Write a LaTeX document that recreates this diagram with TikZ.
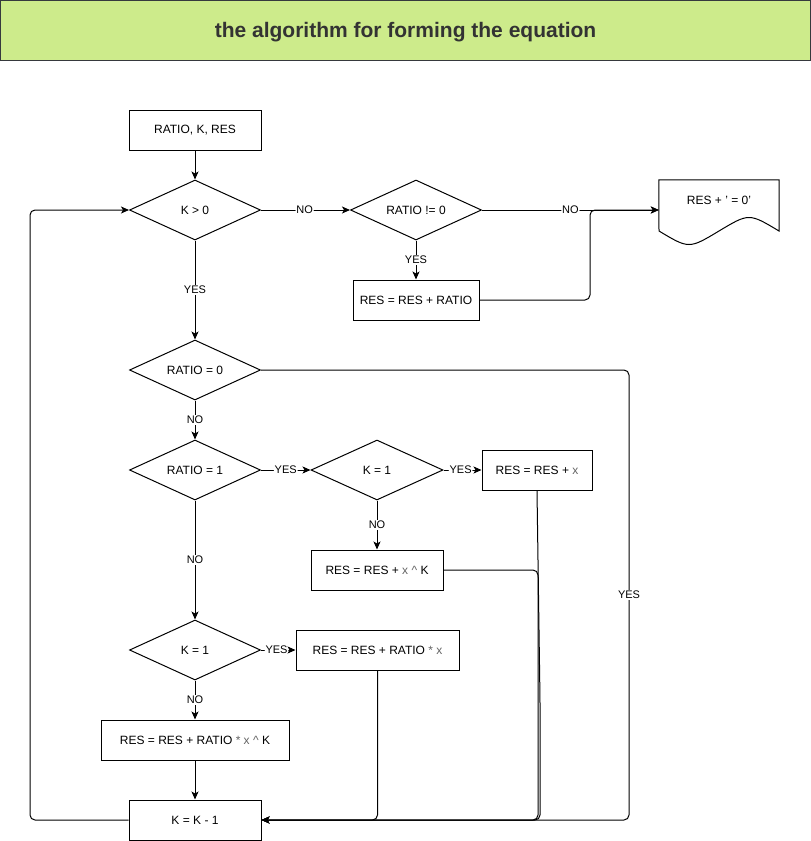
\documentclass[tikz,border=0pt]{standalone}
\usepackage{fontspec}
\setmainfont{Liberation Sans}
\usetikzlibrary{shapes.geometric,arrows.meta}
\definecolor{titlefill}{RGB}{205,235,139}
\definecolor{titledraw}{RGB}{54,57,61}
\definecolor{titletext}{RGB}{51,51,51}
\definecolor{xgray}{RGB}{100,100,100}
\newcommand{\xv}{\textcolor{xgray}{x}}
\begin{document}
\begin{tikzpicture}[x=1pt,y=-1pt,
  every node/.style={font=\fontsize{12}{14}\selectfont},
  procbox/.style={draw,line width=1pt,rectangle,inner sep=0pt,minimum height=40pt},
  decision/.style={draw,line width=1pt,diamond,inner sep=0pt,minimum width=131pt,minimum height=60pt,aspect=2.18},
  conn/.style={line width=1pt,-{Stealth[length=8pt,width=7pt,inset=2pt]},rounded corners=5pt},
  elabel/.style={fill=white,inner sep=1pt,font=\fontsize{11}{13}\selectfont}
]
\useasboundingbox (0,0) rectangle (811,841);
% title
\node[draw=titledraw,fill=titlefill,line width=1pt,minimum width=810pt,minimum height=60pt,inner sep=0pt] (title) at (405,30) {};
\node[text=titletext,font=\fontsize{21}{24}\selectfont\bfseries] (titletext) at (405.5,32) {the algorithm for forming the equation};

% nodes
\node[procbox,minimum width=132pt] (start) at (195,130) {RATIO, K, RES};
\node[decision] (k0) at (195,210) {K \textgreater{} 0};
\node[decision] (rn0) at (416,210) {RATIO != 0};
\node[procbox,minimum width=126pt] (res1) at (416,300) {RES = RES + RATIO};
% document shape
\node[minimum width=120pt,minimum height=60pt,inner sep=0pt] (doc) at (719,210) {};
\draw[line width=1pt] (doc.north west) -- (doc.north east) -- (779,231)
  .. controls (749,213) .. (719,231) .. controls (689,249) .. (659,231) -- cycle;
\node (doctext) at (719,200.5) {RES + ' = 0'};

\node[decision] (rz) at (195,370) {RATIO = 0};
\node[decision] (r1) at (195,470) {RATIO = 1};
\node[decision,minimum width=132pt] (ka) at (377,470) {K = 1};
\node[procbox,minimum width=110pt] (rx) at (537,470) {RES = RES + \xv};
\node[procbox,minimum width=132pt] (rxk) at (377,570) {RES = RES + \textcolor{xgray}{x \^{}} K};
\node[decision] (kb) at (195,650) {K = 1};
\node[procbox,minimum width=163pt] (rrx) at (377.5,650) {RES = RES + RATIO \textcolor{xgray}{* x}};
\node[procbox,minimum width=188pt] (rrxk) at (195,740) {RES = RES + RATIO \textcolor{xgray}{* x \^{}} K};
\node[procbox,minimum width=132pt] (kk) at (195,820) {K = K - 1};

% helper coordinates
\coordinate (m1) at (590,255);
\coordinate (c629) at (629,600);
\coordinate (c540) at (540,700);
\coordinate (c538) at (538,700);
\coordinate (c30) at (30,500);

% connectors
\draw[conn] (start) -- (k0);
\draw[conn] (k0) -- node[elabel,pos=0.49]{NO} (rn0);
\draw[conn] (rn0) -- node[elabel,pos=0.5]{NO} (doc.west);
\draw[conn] (rn0) -- node[elabel,pos=0.5]{YES} (res1);
\draw[conn] (res1.east) -| (m1) |- (doc.west);
\draw[conn] (k0) -- node[elabel,pos=0.5]{YES} (rz);
\draw[conn] (rz.east) -| (c629) |- (kk.east);
\node[elabel] (yesr) at (629,595) {YES};
\draw[conn] (rz) -- node[elabel,pos=0.5]{NO} (r1);
\draw[conn] (r1) -- node[elabel,pos=0.5]{YES} (ka);
\draw[conn] (ka) -- node[elabel,pos=0.45]{YES} (rx);
\draw[conn] (ka) -- node[elabel,pos=0.5]{NO} (rxk);
\draw[conn] (rx.south) -- (c540) |- (kk.east);
\draw[conn] (rxk.east) -| (c538) |- (kk.east);
\draw[conn] (r1) -- node[elabel,pos=0.5]{NO} (kb);
\draw[conn] (kb) -- node[elabel,pos=0.45]{YES} (rrx);
\draw[conn] (kb) -- node[elabel,pos=0.5]{NO} (rrxk);
\draw[conn] (rrx.south) |- (kk.east);
\draw[conn] (rrxk) -- (kk);
\draw[conn] (kk.west) -| (c30) |- (k0.west);
\end{tikzpicture}
\end{document}
